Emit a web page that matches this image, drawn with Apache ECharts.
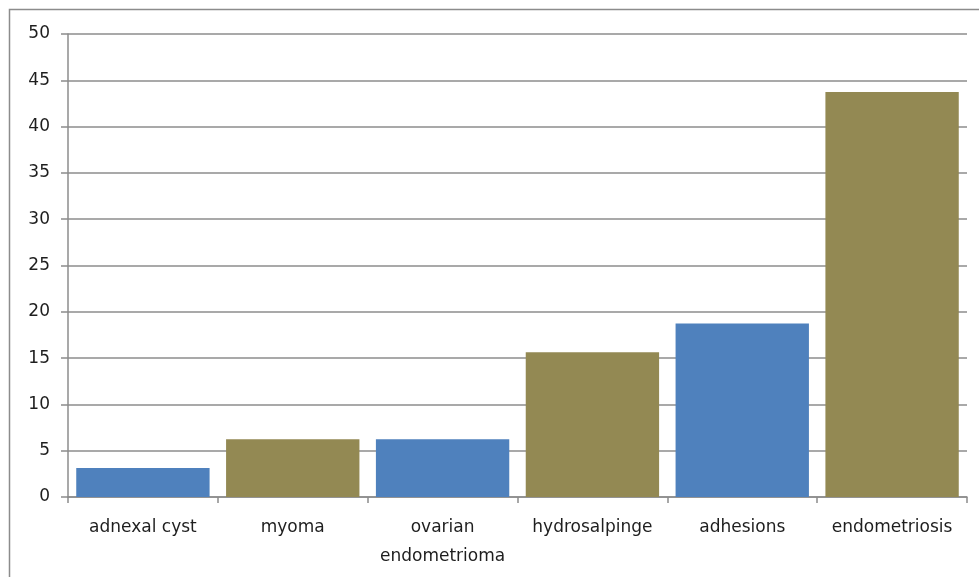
<!DOCTYPE html>
<html>
<head>
<meta charset="utf-8">
<script src="https://cdn.jsdelivr.net/npm/echarts@6/dist/echarts.min.js"></script>
<style>
  html, body { margin: 0; padding: 0; background: #fff; }
  #chart { width: 979px; height: 577px; }
</style>
</head>
<body>
<div id="chart"></div>
<script>
// Findings by category (percent of cases)
const categories = ['adnexal cyst', 'myoma', 'ovarian\nendometrioma', 'hydrosalpinge', 'adhesions', 'endometriosis'];
const values = [3.125, 6.25, 6.25, 15.625, 18.75, 43.75];
const barColors = ['#4F81BD', '#938953', '#4F81BD', '#938953', '#4F81BD', '#938953'];

const chart = echarts.init(document.getElementById('chart'));
const textStyle = { fontFamily: 'DejaVu Sans', fontSize: 17, color: '#1e1e1e' };

chart.setOption({
  animation: false,
  graphic: [{
    type: 'rect',
    shape: { x: 9.5, y: 9.5, width: 1000, height: 600 },
    style: { fill: 'none', stroke: '#8c8c8c', lineWidth: 1.5 },
    silent: true
  }],
  grid: { left: 68, right: 12, top: 34, bottom: 80, containLabel: false },
  xAxis: {
    type: 'category',
    data: categories,
    axisLine: { lineStyle: { color: '#8c8c8c', width: 1.5 } },
    axisTick: { show: true, length: 6, alignWithLabel: false, lineStyle: { color: '#8c8c8c', width: 1.5 } },
    axisLabel: Object.assign({ margin: 16, lineHeight: 29, interval: 0 }, textStyle),
    splitLine: { show: false }
  },
  yAxis: {
    type: 'value',
    min: 0, max: 50, interval: 5,
    axisLine: { show: true, lineStyle: { color: '#8c8c8c', width: 1.5 } },
    axisTick: { show: true, length: 7, lineStyle: { color: '#8c8c8c', width: 1.5 } },
    axisLabel: Object.assign({ margin: 18 }, textStyle),
    splitLine: { show: true, lineStyle: { color: '#8c8c8c', width: 1.5 } }
  },
  series: [{
    type: 'bar',
    data: values.map((v, i) => ({ value: v, itemStyle: { color: barColors[i] } })),
    barCategoryGap: '11%'
  }]
});
</script>
</body>
</html>
